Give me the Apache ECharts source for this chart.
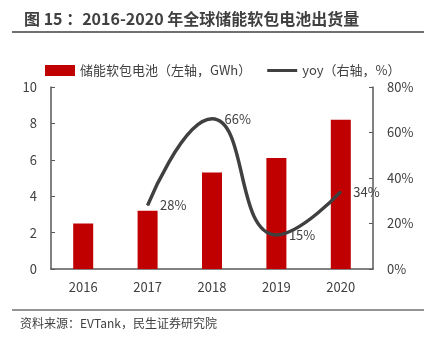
<!DOCTYPE html>
<html><head><meta charset="utf-8">
<script src="https://cdn.jsdelivr.net/npm/echarts@6/dist/echarts.min.js"></script>
<style>html,body{margin:0;padding:0;background:#fff}#c{width:424px;height:337px}</style>
</head><body><div id="c"></div>
<script>
const categories = ['2016','2017','2018','2019','2020'];
const shipments = [2.5, 3.2, 5.3, 6.1, 8.2];
const yoy = [null, 28, 66, 15, 34];
const leftTicks = [0, 2, 4, 6, 8, 10];
const rightTicks = [0, 20, 40, 60, 80];

const chart = echarts.init(document.getElementById('c'));
const font = '"Noto Sans CJK SC", "Noto Sans", sans-serif';
chart.setOption({
  animation: false,
  textStyle: { fontFamily: font },
  title: {
    text: '图 15 ：2016-2020 年全球储能软包电池出货量',
    left: 19, top: 6,
    textStyle: { fontSize: 16, fontWeight: 'bold', color: '#404040', fontFamily: font }
  },
  graphic: [
    { type: 'line', shape: { x1: 12, y1: 32, x2: 424, y2: 32 }, style: { stroke: '#707070', lineWidth: 2 } },
    { type: 'line', shape: { x1: 12, y1: 310, x2: 424, y2: 310 }, style: { stroke: '#707070', lineWidth: 1.5 } },
    { type: 'text', left: 20, top: 317, style: { text: '资料来源：EVTank，民生证券研究院', fill: '#404040', font: '12px ' + font } }
  ],
  legend: {
    top: 59, left: 40, itemGap: 16, itemWidth: 30, itemHeight: 11,
    textStyle: { fontSize: 13, color: '#404040' },
    data: [
      { name: '储能软包电池（左轴，GWh）', icon: 'rect' },
      { name: 'yoy（右轴，%）', icon: 'path://M0,4L30,4L30,7L0,7Z', itemStyle: { color: '#404040' } }
    ]
  },
  grid: { left: 51, right: 51, top: 87, bottom: 68 },
  xAxis: {
    type: 'category', data: categories,
    axisLine: { lineStyle: { color: '#595959', width: 1.5 } },
    axisTick: { show: false },
    axisLabel: { color: '#404040', fontSize: 13, margin: 12 }
  },
  yAxis: [
    {
      type: 'value', min: 0, max: 10, interval: 2,
      splitLine: { show: false },
      axisLine: { show: true, lineStyle: { color: '#595959', width: 1.5 } },
      axisTick: { show: true, inside: true, length: 4, lineStyle: { color: '#595959' } },
      axisLabel: { color: '#404040', fontSize: 13, margin: 14,
        formatter: v => leftTicks.includes(v) ? String(v) : '' }
    },
    {
      type: 'value', min: 0, max: 80, interval: 20,
      splitLine: { show: false },
      axisLine: { show: true, lineStyle: { color: '#595959', width: 1.5 } },
      axisTick: { show: true, inside: true, length: 4, lineStyle: { color: '#595959' } },
      axisLabel: { color: '#404040', fontSize: 13, margin: 14,
        formatter: v => rightTicks.includes(v) ? v + '%' : '' }
    }
  ],
  series: [
    {
      name: '储能软包电池（左轴，GWh）', type: 'bar', data: shipments,
      barWidth: 20, itemStyle: { color: '#C00000' }
    },
    {
      name: 'yoy（右轴，%）', type: 'line', yAxisIndex: 1, data: yoy,
      smooth: 0.5, symbol: 'circle', symbolSize: 1, showSymbol: true, connectNulls: false,
      lineStyle: { color: '#404040', width: 3.5 },
      itemStyle: { color: '#404040' },
      label: { show: true, position: 'right', distance: 12, color: '#404040', fontSize: 13,
        formatter: p => p.value + '%' }
    }
  ]
});
</script></body></html>
